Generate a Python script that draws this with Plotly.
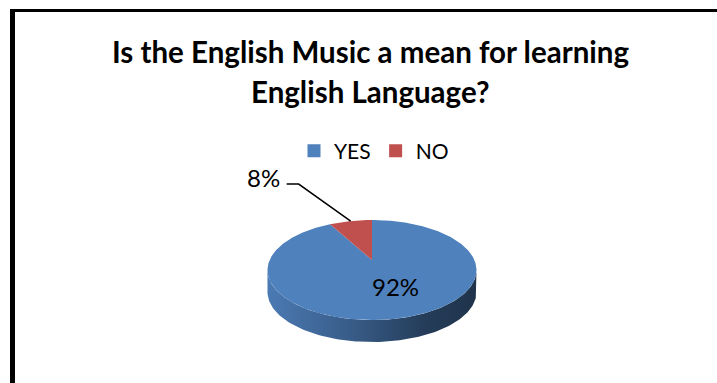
import numpy as np
import plotly.graph_objects as go

# ---- data ----
categories = ["YES", "NO"]
shares = [92, 8]
slice_colors = ["#4F81BD", "#C0504D"]
title_lines = ["Is the English Music a mean for learning", "English Language?"]

# ---- canvas / pie geometry (pixel units) ----
W, H = 717, 383
CX, CY = 372, 260      # projected centre of the top face
RX, RZ = 102.4, 48     # horizontal radius and foreshortened depth radius
K = 0.2                # perspective strength
DEPTH = 22             # thickness of the pie wall
FONT = "Lato"


def project(theta_deg, frac=1.0):
    t = np.radians(theta_deg)
    x = frac * np.cos(t)
    z = frac * np.sin(t)
    s = 1.0 / (1.0 + K * z)
    return CX + RX * x * s, CY - RZ * z * s


def shade(hex_color, f):
    r, g, b = (int(hex_color[i:i + 2], 16) for i in (1, 3, 5))
    return f"rgb({int(r * f)},{int(g * f)},{int(b * f)})"


total = float(sum(shares))
# slices run clockwise from 12 o'clock
bounds = [90.0]
for v in shares:
    bounds.append(bounds[-1] - v / total * 360.0)

fig = go.Figure()

# visible front wall lies between the two silhouette angles
sil = np.degrees(np.arcsin(K))
front_lo, front_hi = -180.0 + sil, -sil
xl = project(180.0 + sil)[0]
xr = project(-sil)[0]

for i, name in enumerate(categories):
    hi, lo = bounds[i], bounds[i + 1]
    a = max(lo, front_lo)
    b = min(hi, front_hi)
    if b <= a:
        continue
    th = np.linspace(a, b, 120)
    tx, ty = project(th)
    px = np.concatenate([tx, tx[::-1]])
    py = np.concatenate([ty, ty[::-1] + DEPTH])
    c = slice_colors[i]
    fig.add_trace(go.Scatter(
        x=px, y=py, mode="lines", line=dict(width=0),
        fill="toself",
        fillgradient=dict(
            type="horizontal", start=xl, stop=xr,
            colorscale=[[0.0, shade(c, 0.95)], [0.4, shade(c, 0.72)],
                        [0.75, shade(c, 0.48)], [1.0, shade(c, 0.40)]]),
        showlegend=False, hoverinfo="skip"))

# top face wedges
for i, name in enumerate(categories):
    hi, lo = bounds[i], bounds[i + 1]
    th = np.linspace(hi, lo, max(4, int(abs(hi - lo) * 2)))
    tx, ty = project(th)
    px = np.concatenate([[CX], tx, [CX]])
    py = np.concatenate([[CY], ty, [CY]])
    fig.add_trace(go.Scatter(
        x=px, y=py, mode="lines", line=dict(width=0),
        fill="toself", fillcolor=slice_colors[i],
        showlegend=False, hoverinfo="skip"))

# legend entries
for i, name in enumerate(categories):
    fig.add_trace(go.Scatter(
        x=[None], y=[None], mode="markers", name=name,
        marker=dict(symbol="square", size=13, color=slice_colors[i])))

# data labels
annotations = []
shapes = []
for i, v in enumerate(shares):
    mid = (bounds[i] + bounds[i + 1]) / 2.0
    text = f"{v}%"
    if v / total >= 0.1:
        lx, ly = project(mid, 0.55)
        annotations.append(dict(
            x=lx, y=ly, text=text, showarrow=False, xshift=8, yshift=2,
            font=dict(family=FONT, size=24, color="#000000"),
            xanchor="center", yanchor="middle"))
    else:
        ax_, ay_ = project(mid, 1.0)
        ex, ey = ax_ - 52, ay_ - 37
        sx = ex - 12
        shapes.append(dict(
            type="path", xref="x", yref="y",
            path=f"M{ax_},{ay_} L{ex},{ey} L{sx},{ey}",
            line=dict(color="#000000", width=1.5)))
        annotations.append(dict(
            x=sx - 5, y=ey - 7, text=text, showarrow=False,
            font=dict(family=FONT, size=24, color="#000000"),
            xanchor="right", yanchor="middle"))

# title
for j, (line, ty) in enumerate(zip(title_lines, [51, 91])):
    annotations.append(dict(
        x=370, y=ty, text=f"<b>{line}</b>", showarrow=False,
        font=dict(family=FONT, size=29.5, color="#000000"),
        xanchor="center", yanchor="middle"))

# chart-area frame (top and left edges)
shapes.append(dict(type="line", xref="x", yref="y", x0=10, x1=W, y0=10.5, y1=10.5,
                   line=dict(color="#000000", width=3)))
shapes.append(dict(type="line", xref="x", yref="y", x0=12.5, x1=12.5, y0=9, y1=H,
                   line=dict(color="#000000", width=5)))

fig.update_layout(
    width=W, height=H,
    margin=dict(l=0, r=0, t=0, b=0),
    paper_bgcolor="white", plot_bgcolor="white",
    xaxis=dict(range=[0, W], visible=False, fixedrange=True),
    yaxis=dict(range=[H, 0], visible=False, fixedrange=True),
    showlegend=True,
    legend=dict(orientation="h", x=374 / W, xanchor="center",
                y=1 - 151 / H, yanchor="middle",
                font=dict(family=FONT, size=21, color="#000000"),
                bgcolor="rgba(0,0,0,0)"),
    annotations=annotations,
    shapes=shapes,
)

fig.write_html("out.html")
